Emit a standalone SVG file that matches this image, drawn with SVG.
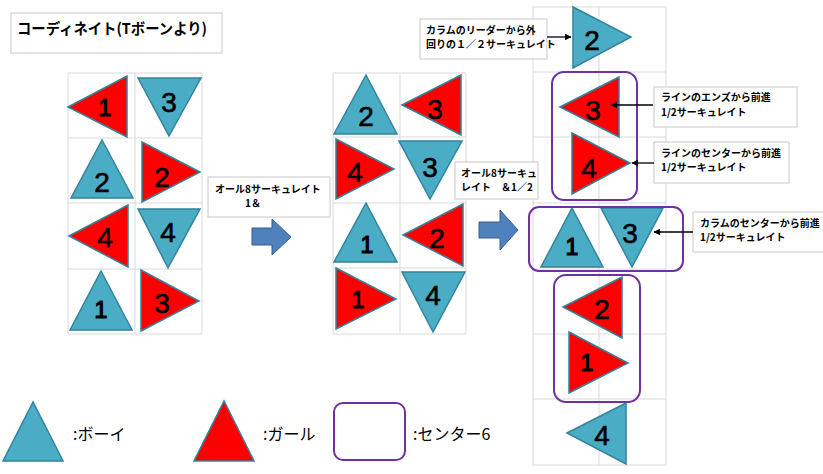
<svg xmlns="http://www.w3.org/2000/svg" width="823" height="474" viewBox="0 0 823 474">
<defs>
<style>
.grid{fill:none;stroke:#D9D9D9;stroke-width:1}
.boy{fill:#4BACC6;stroke:#31849B;stroke-width:1.5;stroke-linejoin:miter}
.girl{fill:#FF0000;stroke:#31849B;stroke-width:1.5}
.num{font-family:"Liberation Sans",Arial,sans-serif;font-size:28px;fill:#000;stroke:#000;stroke-width:0.6;text-anchor:middle}
.n1{font-size:23px;stroke-width:1.2}
.box{fill:#fff;stroke:#C8C8C8;stroke-width:1}
.lbl{font-family:"Noto Sans CJK JP","Noto Sans",sans-serif;font-size:10px;font-weight:bold;fill:#000}
.center6{fill:none;stroke:#7030A0;stroke-width:2}
.blk{fill:#4F81BD;stroke:#385D8A;stroke-width:1}
.conn{stroke:#000;stroke-width:1.3;fill:none;marker-end:url(#ah)}
.leg{font-family:"Noto Sans CJK JP","Noto Sans",sans-serif;font-size:16px;fill:#000}
</style>
<marker id="ah" viewBox="0 0 10 10" refX="9" refY="5" markerWidth="7" markerHeight="7" markerUnits="userSpaceOnUse" orient="auto">
<path d="M0,0 L10,5 L0,10 z" fill="#000"/>
</marker>
</defs>
<rect width="823" height="474" fill="#fff"/>

<g id="title">
<rect class="box" x="11" y="13" width="211" height="40" stroke="#D9D9D9"/>
<text x="17" y="34" font-family="'Noto Sans CJK JP','Noto Sans',sans-serif" font-size="15" font-weight="bold" textLength="190" lengthAdjust="spacingAndGlyphs">コーディネイト(Tボーンより)</text>
</g>

<g id="grids">
<path class="grid" d="M68,73H202V334H68Z M135,73V334 M68,138H202 M68,203H202 M68,269H202"/>
<path class="grid" d="M333,73H466V334H333Z M400,73V334 M333,137H466 M333,203H466 M333,268H466"/>
<path class="grid" d="M533,7H666V465H533Z M599,7V465 M533,72H666 M533,137H666 M533,203H666 M533,269H666 M533,334H666 M533,399H666"/>
</g>

<g id="left-formation">
<g id="L-girl1"><polygon class="girl" points="68,107 127,76 127,137"/><text class="num n1" x="105" y="116">1</text></g>
<g id="L-boy3"><polygon class="boy" points="138,78 201,78 169,136"/><text class="num" x="169" y="112">3</text></g>
<g id="L-boy2"><polygon class="boy" points="102,140 71,198 133,198"/><text class="num" x="102" y="192">2</text></g>
<g id="L-girl2"><polygon class="girl" points="142,142 200,172 142,202"/><text class="num" x="162" y="187">2</text></g>
<g id="L-girl4"><polygon class="girl" points="69,236 128,205 128,267"/><text class="num" x="105" y="247">4</text></g>
<g id="L-boy4"><polygon class="boy" points="138,209 200,209 168,268"/><text class="num" x="168" y="242">4</text></g>
<g id="L-boy1"><polygon class="boy" points="101,271 70,330 132,330"/><text class="num n1" x="101" y="318">1</text></g>
<g id="L-girl3"><polygon class="girl" points="141,270 199,301 141,331"/><text class="num" x="162" y="313">3</text></g>
</g>

<g id="mid-formation">
<g id="M-boy2"><polygon class="boy" points="366,75 334,134 397,134"/><text class="num" x="366" y="126">2</text></g>
<g id="M-girl3"><polygon class="girl" points="402,105 461,75 461,135"/><text class="num" x="435" y="119">3</text></g>
<g id="M-girl4"><polygon class="girl" points="336,139 394,169 336,199"/><text class="num" x="355" y="182">4</text></g>
<g id="M-boy3"><polygon class="boy" points="399,141 462,141 430,199"/><text class="num" x="430" y="177">3</text></g>
<g id="M-boy1"><polygon class="boy" points="366,203 334,262 397,262"/><text class="num n1" x="367" y="253">1</text></g>
<g id="M-girl2"><polygon class="girl" points="403,235 463,204 463,266"/><text class="num" x="437" y="248">2</text></g>
<g id="M-girl1"><polygon class="girl" points="336,268 396,299 336,329"/><text class="num n1" x="358" y="308">1</text></g>
<g id="M-boy4"><polygon class="boy" points="402,272 465,272 433,332"/><text class="num" x="433" y="305">4</text></g>
</g>

<g id="right-formation">
<g id="R-boy2"><polygon class="boy" points="573,7 631,37 573,68"/><text class="num" x="592" y="50">2</text></g>
<g id="R-girl3"><polygon class="girl" points="560,107 619,77 619,137"/><text class="num" x="593" y="120">3</text></g>
<g id="R-girl4"><polygon class="girl" points="572,133 630,163 572,194"/><text class="num" x="589" y="178">4</text></g>
<g id="R-boy1"><polygon class="boy" points="572,208 541,267 603,267"/><text class="num n1" x="572" y="255">1</text></g>
<g id="R-boy3"><polygon class="boy" points="601,208 663,208 632,267"/><text class="num" x="630" y="243">3</text></g>
<g id="R-girl2"><polygon class="girl" points="563,307 622,277 622,338"/><text class="num" x="602" y="319">2</text></g>
<g id="R-girl1"><polygon class="girl" points="569,332 628,363 569,393"/><text class="num n1" x="587" y="371">1</text></g>
<g id="R-boy4"><polygon class="boy" points="567,433 626,403 626,464"/><text class="num" x="602" y="445">4</text></g>
</g>

<g id="center6-groups">
<rect class="center6" x="552" y="72" width="85" height="128" rx="12"/>
<rect class="center6" x="529" y="207" width="154" height="64" rx="10"/>
<rect class="center6" x="554" y="275" width="86" height="127" rx="12"/>
</g>

<g id="step-arrows">
<polygon class="blk" points="252,228 272,228 272,219 291,237 272,255 272,245 252,245"/>
<polygon class="blk" points="479,222 500,222 500,210 518,230 500,250 500,238 479,238"/>
</g>

<g id="label-step1">
<rect class="box" x="208" y="177" width="122" height="40"/>
<text class="lbl" x="215" y="193">オール8サーキュレイト</text>
<text class="lbl" x="245" y="207">1＆</text>
</g>
<g id="label-step2">
<rect class="box" x="455" y="162" width="83" height="37"/>
<text class="lbl" x="461" y="177">オール8サーキュ</text>
<text class="lbl" x="461" y="191">レイト　＆1／2</text>
</g>
<g id="label-leader">
<rect class="box" x="420" y="19" width="127" height="40"/>
<text class="lbl" x="426" y="34">カラムのリーダーから外</text>
<text class="lbl" x="426" y="48">回りの１／２サーキュレイト</text>
</g>
<g id="label-ends">
<rect class="box" x="654" y="87" width="143" height="40"/>
<text class="lbl" x="661" y="101">ラインのエンズから前進</text>
<text class="lbl" x="661" y="116">1/2サーキュレイト</text>
</g>
<g id="label-line-center">
<rect class="box" x="654" y="142" width="135" height="41"/>
<text class="lbl" x="661" y="157">ラインのセンターから前進</text>
<text class="lbl" x="661" y="171">1/2サーキュレイト</text>
</g>
<g id="label-column-center">
<rect class="box" x="693" y="212" width="140" height="40"/>
<text class="lbl" x="700" y="227">カラムのセンターから前進</text>
<text class="lbl" x="700" y="241">1/2サーキュレイト</text>
</g>

<g id="connectors">
<line class="conn" x1="547" y1="37" x2="571" y2="37"/>
<line class="conn" x1="653" y1="105" x2="611" y2="105"/>
<line class="conn" x1="654" y1="163" x2="632" y2="163"/>
<line class="conn" x1="693" y1="232" x2="654" y2="232"/>
</g>

<g id="legend">
<g id="legend-boy"><polygon class="boy" points="33,402 3,461 63,461"/><text class="leg" x="73" y="440">:ボーイ</text></g>
<g id="legend-girl"><polygon class="girl" points="224,401 194,461 254,461"/><text class="leg" x="263" y="440">:ガール</text></g>
<g id="legend-center6"><rect class="center6" x="334" y="403" width="71" height="57" rx="9"/><text class="leg" x="413" y="440">:センター6</text></g>
</g>
</svg>
